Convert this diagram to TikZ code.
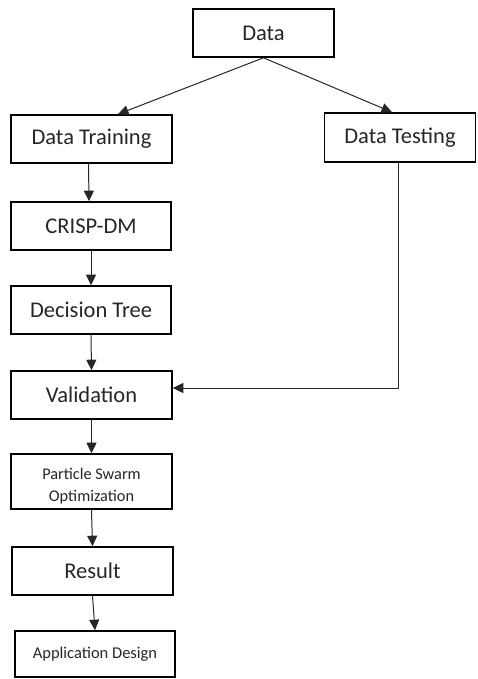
\documentclass[tikz,border=0pt]{standalone}
\usepackage{fontspec}
\setmainfont{Carlito}
\usetikzlibrary{arrows.meta,calc}
\tikzset{
  box/.style={draw=black, line width=1.6pt, rectangle, inner sep=0pt, font=\fontsize{22.5}{26}\selectfont, text=black!85},
  smalltext/.style={inner sep=0pt, align=center, font=\fontsize{16.3}{22}\selectfont, text=black!85},
  arr/.style={draw=black!85, line width=1pt, -{Triangle[length=10.5pt,width=10pt]}}
}
\begin{document}
\begin{tikzpicture}[x=1pt,y=-1pt]
\useasboundingbox (0,0) rectangle (477,679);
\node[box, minimum width=141pt, minimum height=48pt] (data) at (263.5,33) {Data};
\node[box, minimum width=161pt, minimum height=48pt] (train) at (91.5,139) {Data Training};
\node[box, minimum width=151pt, minimum height=49pt] (test) at (400,137.5) {Data Testing};
\node[box, minimum width=160pt, minimum height=48pt] (crisp) at (91,226) {CRISP-DM};
\node[box, minimum width=160pt, minimum height=48pt] (dt) at (91,310) {Decision Tree};
\node[box, minimum width=161pt, minimum height=48pt] (val) at (91.5,395) {Validation};
\node[box, minimum width=161pt, minimum height=55pt] (pso) at (91.5,481.5) {};
\node[smalltext] (psot) at (91.5,486) {Particle Swarm\\Optimization};
\node[box, minimum width=161pt, minimum height=48pt] (res) at (92.5,571) {Result};
\node[box, minimum width=160pt, minimum height=46pt, font=\fontsize{16.5}{20}\selectfont] (app) at (95,654) {Application Design};

\draw[arr] (data.south) -- ([xshift=26.5pt]train.north);
\draw[arr] (data.south) -- ([xshift=-8pt]test.north);
\draw[arr] ([xshift=-3pt]train.south) -- ([xshift=-2pt]crisp.north);
\draw[arr] (crisp.south) -- (dt.north);
\draw[arr] (dt.south) -- (val.north);
\draw[arr] (val.south) -- (pso.north);
\draw[arr] (pso.south) -- (res.north);
\draw[arr] (res.south) -- (app.north);
\draw[arr] ([xshift=-2pt]test.south) |- ([yshift=7pt]val.east);
\end{tikzpicture}
\end{document}
